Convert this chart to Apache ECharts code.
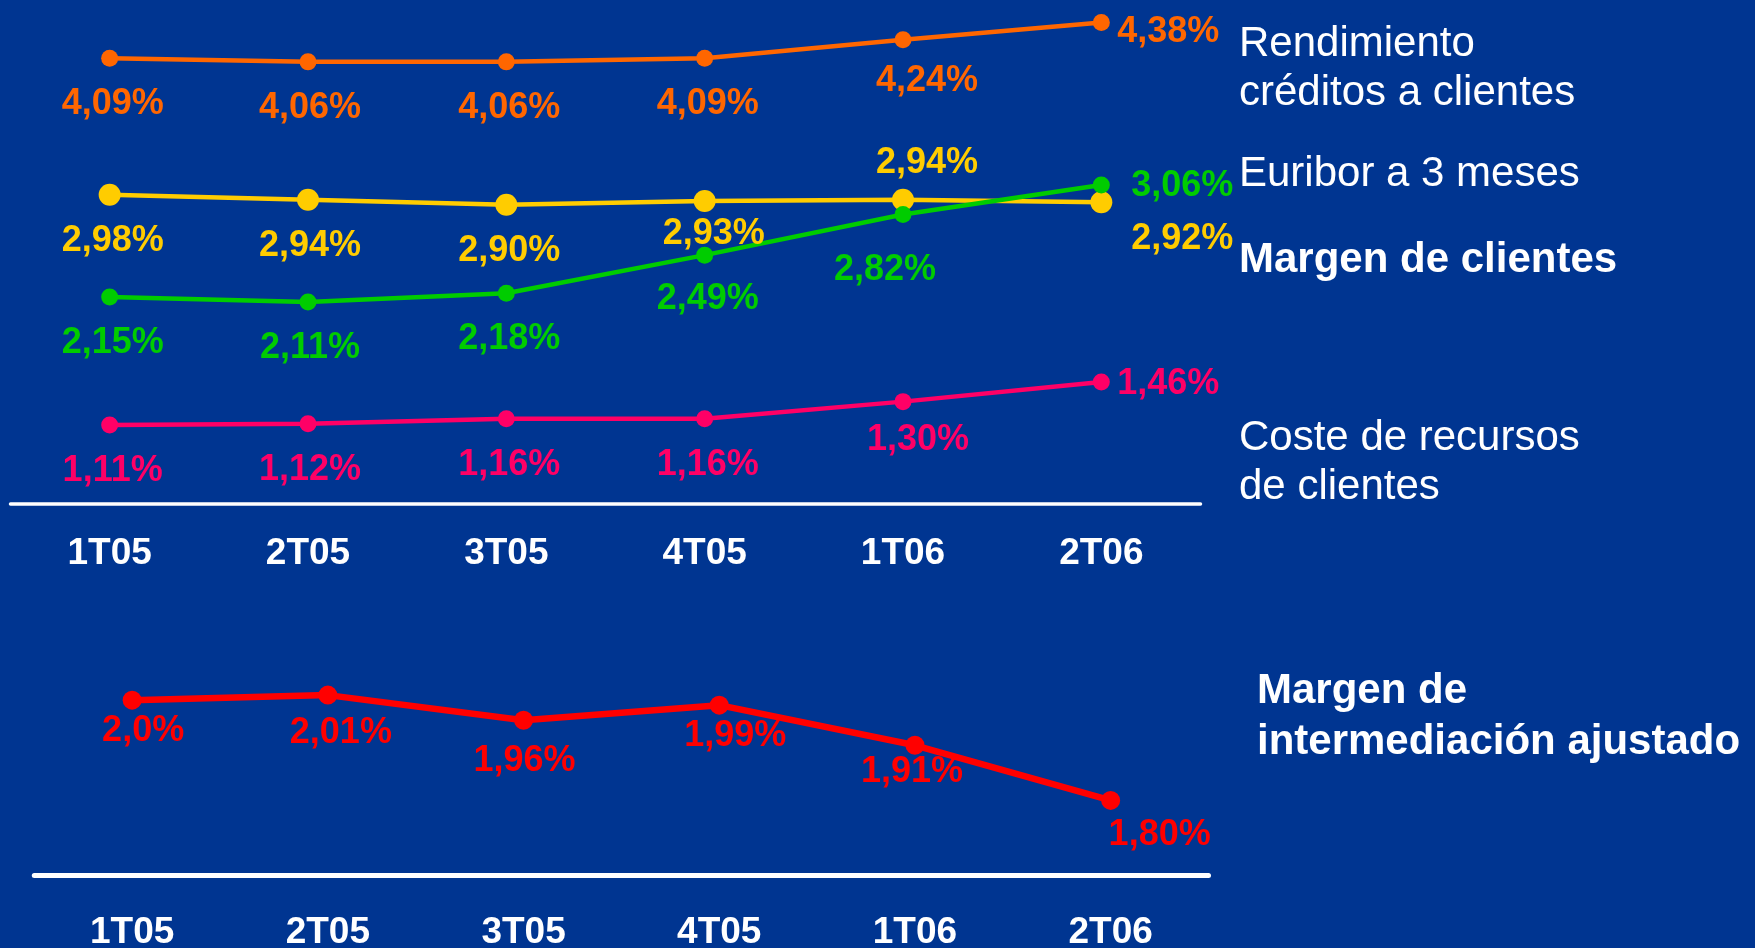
<!DOCTYPE html>
<html>
<head>
<meta charset="utf-8">
<script src="https://cdn.jsdelivr.net/npm/echarts@6/dist/echarts.min.js"></script>
<style>
  html, body { margin: 0; padding: 0; background: #003591; }
  #chart { width: 1755px; height: 948px; }
</style>
</head>
<body>
<div id="chart"></div>
<script>
// trimestres
var quarters = ['1T05', '2T05', '3T05', '4T05', '1T06', '2T06'];

// gráfico superior (%)
var rendimiento = [4.09, 4.06, 4.06, 4.09, 4.24, 4.38];
var euribor = [2.98, 2.94, 2.90, 2.93, 2.94, 2.92];
var margenClientes = [2.15, 2.11, 2.18, 2.49, 2.82, 3.06];
var costeRecursos = [1.11, 1.12, 1.16, 1.16, 1.30, 1.46];

// gráfico inferior (%)
var margenAjustado = [2.00, 2.01, 1.96, 1.99, 1.91, 1.80];
var margenAjustadoTxt = ['2,0%', '2,01%', '1,96%', '1,99%', '1,91%', '1,80%'];

// desplazamiento de las etiquetas respecto al punto
var offRend = [[3,46],[2,46],[3,46],[3,46],[24,41],[67,10]];
var offEur = [[3,46],[2,46],[3,46],[9,33],[24,-37],[81,37]];
var offMarg = [[3,46],[2,46],[3,46],[3,44],[-18,56],[81,1]];
var offCoste = [[3,46],[2,46],[3,46],[3,46],[15,38],[67,2]];
var offAjust = [[11,31],[13,38],[1,41],[16,31],[-3,27],[49,35]];

var FONT = '"Liberation Sans", Arial, sans-serif';

function pct(v) {
    return v.toFixed(2).replace('.', ',') + '%';
}

function items(vals, offs, texts) {
    return vals.map(function (v, i) {
        return {
            value: v,
            label: {
                offset: offs[i],
                formatter: texts ? texts[i] : pct(v)
            }
        };
    });
}

function serie(name, vals, offs, color, size, width, xi, texts) {
    return {
        name: name,
        type: 'line',
        xAxisIndex: xi,
        yAxisIndex: xi,
        data: items(vals, offs, texts),
        symbol: 'circle',
        symbolSize: size,
        lineStyle: { color: color, width: width },
        itemStyle: { color: color },
        label: {
            show: true,
            position: 'inside',
            align: 'center',
            verticalAlign: 'middle',
            color: color,
            fontFamily: FONT,
            fontWeight: 'bold',
            fontSize: 36
        },
        animation: false,
        z: 3
    };
}

function legendText(x, y, text, bold) {
    return {
        type: 'text',
        left: x,
        top: y - 19,
        style: {
            text: text,
            fill: '#ffffff',
            font: (bold ? 'bold ' : '') + '42px ' + FONT
        }
    };
}

var catAxis = function (gi, margin, lineW) {
    return {
        type: 'category',
        gridIndex: gi,
        data: quarters,
        boundaryGap: true,
        axisLine: { show: true, lineStyle: { color: '#ffffff', width: lineW, cap: 'round' } },
        axisTick: { show: false },
        axisLabel: {
            color: '#ffffff',
            fontFamily: FONT,
            fontWeight: 'bold',
            fontSize: 37,
            margin: margin,
            verticalAlign: 'middle'
        }
    };
};

var myChart = echarts.init(document.getElementById('chart'));
myChart.setOption({
    backgroundColor: '#003591',
    grid: [
        { left: 10.5, top: 7.7, width: 1190, height: 496.1, outerBoundsMode: 'none', containLabel: false },
        { left: 34.3, top: 650, width: 1174.2, height: 225.6, outerBoundsMode: 'none', containLabel: false }
    ],
    xAxis: [catAxis(0, 50, 3.5), catAxis(1, 57, 5)],
    yAxis: [
        { type: 'value', gridIndex: 0, min: 0.47, max: 4.5, show: false },
        { type: 'value', gridIndex: 1, min: 1.65, max: 2.1, show: false }
    ],
    series: [
        serie('Rendimiento créditos a clientes', rendimiento, offRend, '#FF6600', 17, 4.5, 0),
        serie('Euribor a 3 meses', euribor, offEur, '#FFCC00', 22, 4.5, 0),
        serie('Margen de clientes', margenClientes, offMarg, '#00CC00', 17, 4.5, 0),
        serie('Coste de recursos de clientes', costeRecursos, offCoste, '#FF0066', 17, 4.5, 0),
        serie('Margen de intermediación ajustado', margenAjustado, offAjust, '#FF0000', 19, 6.5, 1, margenAjustadoTxt)
    ],
    graphic: [
        legendText(1239, 42.5, 'Rendimiento', false),
        legendText(1239, 91.8, 'créditos a clientes', false),
        legendText(1239, 172.4, 'Euribor a 3 meses', false),
        legendText(1239, 258.6, 'Margen de clientes', true),
        legendText(1239, 436.5, 'Coste de recursos', false),
        legendText(1239, 485.8, 'de clientes', false),
        legendText(1257, 689.5, 'Margen de', true),
        legendText(1257, 740, 'intermediación ajustado', true)
    ]
});
</script>
</body>
</html>
